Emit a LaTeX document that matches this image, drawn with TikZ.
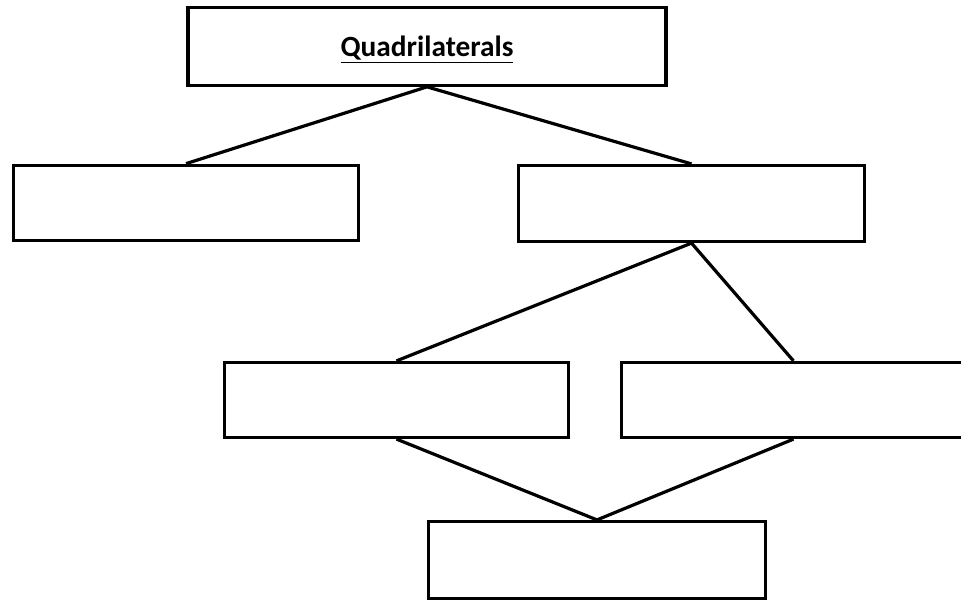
\documentclass[tikz,border=0pt]{standalone}
\usepackage{fontspec}
\newfontfamily\calib{Carlito}
\usetikzlibrary{positioning}
\newlength{\pxu}
\setlength{\pxu}{0.75pt}
\tikzset{qbox/.style={draw, line width=2.4pt, inner sep=0pt, minimum height=76\pxu, minimum width=345\pxu},
qlink/.style={line width=2.4pt}}

\begin{document}
\begin{tikzpicture}[x=\pxu, y=-\pxu]
	\useasboundingbox (0,0) rectangle (961,603);
	\clip (0,0) rectangle (961,603);
	\node[qbox, minimum width=478\pxu, minimum height=78\pxu, text depth=0pt, font=\calib\bfseries\fontsize{22}{26}\selectfont] (quad) at (427,46.25) {\underline{Quadrilaterals}};
	\node[qbox, minimum height=75\pxu] (left) at (186,202.75) {};
	\node[qbox, minimum width=346\pxu] (right) at (691.5,203.5) {};
	\node[qbox, minimum width=344\pxu, minimum height=75\pxu] (midleft) at (396.5,400) {};
	\node[qbox, minimum width=344\pxu, minimum height=75\pxu] (midright) at (793.5,400) {};
	\node[qbox, minimum width=337\pxu, minimum height=77\pxu] (bottom) at (597,560) {};
	% connectors
	\draw[qlink] (left.north) -- (quad.south) -- (right.north);
	\draw[qlink] (midleft.north) -- (right.south) -- (midright.north);
	\draw[qlink] (midleft.south) -- (bottom.north) -- (midright.south);
\end{tikzpicture}
\end{document}
